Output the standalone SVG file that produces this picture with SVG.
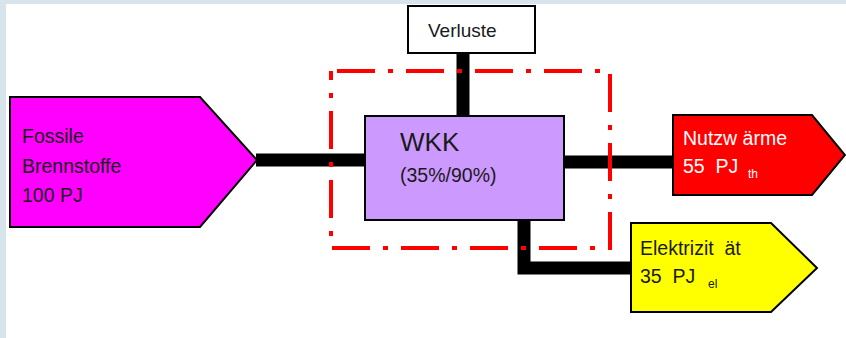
<svg xmlns="http://www.w3.org/2000/svg" width="846" height="338" viewBox="0 0 846 338">
<style>
.t{font-family:"Liberation Sans",Arial,sans-serif;font-size:19.5px;fill:#1a1a1a;white-space:pre}
.w{fill:#ffffff}
.sub{font-size:12px}
.node{stroke:#000;stroke-width:2;stroke-linejoin:miter}
.conn{stroke:#000;stroke-width:13;fill:none;stroke-linejoin:miter}
</style>
<rect x="0" y="0" width="846" height="338" fill="#d7e4eb"/>
<rect x="6" y="4" width="840" height="334" fill="#ffffff"/>
<g id="connectors">
<line class="conn" x1="463" y1="53" x2="463" y2="117"/>
<line class="conn" x1="256" y1="160" x2="366" y2="160"/>
<line class="conn" x1="563" y1="162" x2="673" y2="162"/>
<polyline class="conn" points="524,219 524,268 632,268"/>
</g>
<g id="boundary">
<rect x="331" y="71" width="279" height="177" fill="none" stroke="#ff0000" stroke-width="4" stroke-dasharray="38 13 5 13" stroke-dashoffset="-6"/>
</g>
<g id="verluste">
<rect class="node" x="408" y="6" width="127" height="47" fill="#ffffff" stroke-width="1.5"/>
<text class="t" x="428" y="37" style="font-size:19px">Verluste</text>
</g>
<g id="fossile">
<polygon class="node" points="10,97 200,97 257,160 200,227 10,227" fill="#ff00ff"/>
<text class="t" x="22" y="143">Fossile</text>
<text class="t" x="22" y="173">Brennstoffe</text>
<text class="t" x="22" y="202">100 PJ</text>
</g>
<g id="wkk">
<rect class="node" x="365" y="116" width="199" height="104" fill="#cc99ff"/>
<text class="t" x="400" y="151" style="font-size:26px">WKK</text>
<text class="t" x="400" y="182">(35%/90%)</text>
</g>
<g id="nutzwaerme">
<polygon class="node" points="673,115 812,115 845,155 812,195 673,195" fill="#ff0000"/>
<text class="t w" x="683" y="145">Nutzw ärme</text>
<text class="t w" x="683" y="173">55  PJ</text>
<text class="t w sub" x="748" y="178">th</text>
</g>
<g id="elektrizitaet">
<polygon class="node" points="631,223 771,223 817,268 771,312 631,312" fill="#ffff00"/>
<text class="t" x="640" y="255">Elektrizit  ät</text>
<text class="t" x="640" y="283">35  PJ</text>
<text class="t sub" x="708" y="288">el</text>
</g>
</svg>
